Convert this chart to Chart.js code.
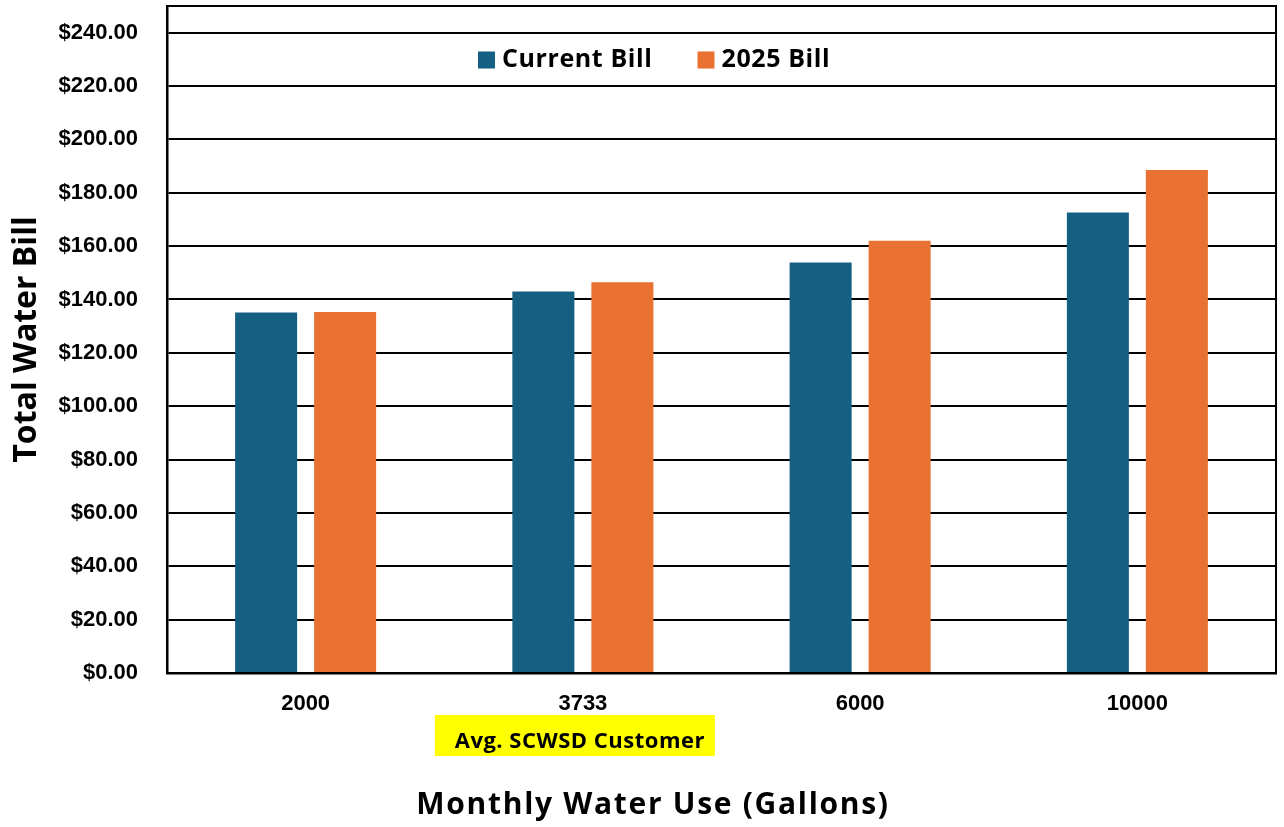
<!DOCTYPE html>
<html>
<head>
<meta charset="utf-8">
<script src="https://cdn.jsdelivr.net/npm/chart.js@4.4.1/dist/chart.umd.min.js"></script>
<style>
  html, body { margin: 0; padding: 0; background: #fff; }
  #wrap { width: 1284px; height: 827px; position: relative; }
</style>
</head>
<body>
<div id="wrap"><canvas id="billChart"></canvas></div>
<script>
/* =======================
   DATA
======================= */

const categories = ["2000", "3733", "6000", "10000"];
const currentBill = [135.1, 143.0, 153.9, 172.6];
const bill2025 = [135.3, 146.5, 162.0, 188.5];
const yTickValues = [0, 20, 40, 60, 80, 100, 120, 140, 160, 180, 200, 220, 240];
const seriesNames = ["Current Bill", "2025 Bill"];
const highlightIndex = 1;
const highlightLabel = "Avg. SCWSD Customer";
const xTitle = "Monthly Water Use (Gallons)";
const yTitle = "Total Water Bill";

const BLUE = "#156082";
const ORANGE = "#E97132";
const TITLE_FONT = "'Open Sans', 'Noto Sans', sans-serif";
const TICK_FONT = "'Liberation Sans', Arial, sans-serif";

/* =======================
   EXTRAS (frame, legend, notes)
======================= */

const extras = {
  id: "extras",
  afterDraw(chart) {
    const { ctx, chartArea: a, scales } = chart;
    ctx.save();

    // frame top + right
    ctx.strokeStyle = "#000";
    ctx.lineWidth = 2;
    ctx.beginPath();
    ctx.moveTo(a.left, a.top);
    ctx.lineTo(a.right, a.top);
    ctx.lineTo(a.right, a.bottom);
    ctx.stroke();

    // legend
    const colors = [BLUE, ORANGE];
    ctx.font = "bold 25px " + TITLE_FONT;
    ctx.letterSpacing = "0.6px";
    ctx.textBaseline = "middle";
    ctx.textAlign = "left";
    let x = 478;
    const ly = a.top + 54;
    seriesNames.forEach((name, i) => {
      ctx.fillStyle = colors[i];
      ctx.fillRect(x, ly - 8.5, 17, 17);
      ctx.fillStyle = "#000";
      ctx.fillText(name, x + 24, ly);
      x += 24 + ctx.measureText(name).width + 45;
    });

    // highlight box under 3733
    const cx = scales.x.getPixelForValue(highlightIndex) - 8;
    ctx.fillStyle = "#FFFF00";
    ctx.fillRect(cx - 140, 715, 280, 41);
    ctx.fillStyle = "#000";
    ctx.font = "bold 22px " + TITLE_FONT;
    ctx.letterSpacing = "0.5px";
    ctx.textAlign = "center";
    ctx.textBaseline = "alphabetic";
    ctx.fillText(highlightLabel, cx + 5, 748);

    // x axis title
    ctx.font = "bold 30px " + TITLE_FONT;
    ctx.letterSpacing = "1.7px";
    ctx.fillText(xTitle, 653, 814);

    ctx.restore();
  }
};

/* =======================
   CHART
======================= */

new Chart(document.getElementById("billChart"), {
  type: "bar",
  data: {
    labels: categories,
    datasets: [
      { label: seriesNames[0], data: currentBill, backgroundColor: BLUE },
      { label: seriesNames[1], data: bill2025, backgroundColor: ORANGE }
    ]
  },
  options: {
    responsive: true,
    maintainAspectRatio: false,
    animation: false,
    layout: { padding: { top: 6, right: 8, left: 0, bottom: 0 } },
    datasets: {
      bar: { categoryPercentage: 0.57, barPercentage: 0.785 }
    },
    plugins: {
      legend: { display: false },
      tooltip: { enabled: false }
    },
    scales: {
      x: {
        grid: { display: false, drawTicks: false },
        border: { display: true, color: "#000", width: 2.5 },
        ticks: {
          color: "#000",
          padding: 18,
          font: { family: TICK_FONT, size: 22, weight: "bold" }
        },
        afterFit(scale) {
          scale.height = 154;
          scale.paddingLeft = 0;
          scale.paddingRight = 0;
        }
      },
      y: {
        min: 0,
        max: 250,
        afterBuildTicks(scale) {
          scale.ticks = yTickValues.map(v => ({ value: v }));
        },
        grid: { color: "#000", lineWidth: 2, drawTicks: false },
        border: { display: true, color: "#000", width: 2.5 },
        ticks: {
          color: "#000",
          padding: 29,
          font: { family: TICK_FONT, size: 22, weight: "bold" },
          callback: v => "$" + Number(v).toFixed(2)
        },
        title: {
          display: true,
          text: yTitle,
          color: "#000",
          padding: { top: 8, bottom: 0 },
          font: { family: TITLE_FONT, size: 32, weight: "bold" }
        },
        afterFit(scale) {
          scale.width = 167;
          scale.paddingTop = 0;
          scale.paddingBottom = 0;
        }
      }
    }
  },
  plugins: [extras]
});
</script>
</body>
</html>
